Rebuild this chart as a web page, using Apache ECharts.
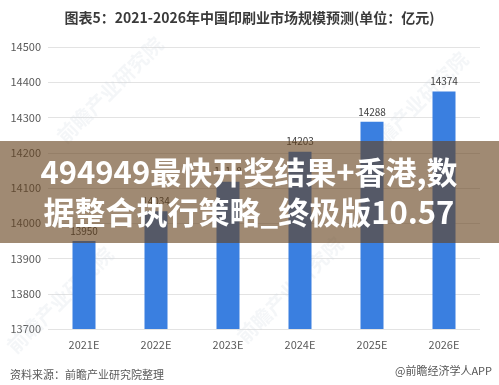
<!DOCTYPE html>
<html><head><meta charset="utf-8">
<script src="https://cdn.jsdelivr.net/npm/echarts@6/dist/echarts.min.js"></script>
<style>html,body{margin:0;padding:0;background:#fff}#c{width:499px;height:385px}</style>
</head><body><div id="c"></div>
<script>
const categories = ['2021E','2022E','2023E','2024E','2025E','2026E'];
const values = [13950, 14034, 14118, 14203, 14288, 14374];
const yTicks = {min: 13700, max: 14500, interval: 100};
const titleText = '图表5：2021-2026年中国印刷业市场规模预测(单位：亿元)';
const overlayLines = ['494949最快开奖结果+香港,数', '据整合执行策略_终极版10.57'];
const sourceText = '资料来源：前瞻产业研究院整理';
const brandText = '@前瞻经济学人APP';
const wmText = '前瞻产业研究院';

const chart = echarts.init(document.getElementById('c'), null, {renderer: 'canvas'});
const cjk = '"Noto Sans CJK SC", "Microsoft YaHei", sans-serif';
const wm = (x, y) => ({
  type: 'text', x: x, y: y, rotation: Math.PI / 4, z: 1,
  style: {text: wmText, font: 'bold 20px ' + cjk, fill: 'rgba(205,212,225,0.22)', textAlign: 'center', textVerticalAlign: 'middle'}
});
chart.setOption({
  animation: false,
  backgroundColor: '#ffffff',
  title: {
    text: titleText, left: 'center', top: 6,
    textStyle: {fontFamily: cjk, fontSize: 14, fontWeight: 'bold', color: '#3a3a3a'}
  },
  grid: {left: 48, right: 19, top: 47, height: 282, containLabel: false},
  xAxis: {
    type: 'category', data: categories,
    axisLine: {show: false}, axisTick: {show: false},
    axisLabel: {color: '#595959', fontSize: 11, fontFamily: cjk, margin: 10}
  },
  yAxis: {
    type: 'value', min: yTicks.min, max: yTicks.max, interval: yTicks.interval,
    axisLine: {show: false}, axisTick: {show: false},
    axisLabel: {color: '#595959', fontSize: 11, fontFamily: cjk, margin: 7, formatter: v => String(v)},
    splitLine: {lineStyle: {color: '#e3e3e3', width: 1}}
  },
  series: [{
    type: 'bar', data: values, barWidth: 23,
    itemStyle: {color: '#3a7fe0'},
    label: {show: true, position: 'top', color: '#404040', fontSize: 10, fontFamily: cjk, distance: 5, formatter: p => String(p.value)}
  }],
  graphic: [
    wm(110, 90), wm(415, 105), wm(60, 300), wm(290, 290),
    {type: 'text', left: 10, top: 369, style: {text: sourceText, font: '11px ' + cjk, fill: '#595959'}},
    {type: 'text', right: 7, top: 365, style: {text: brandText, font: '11px ' + cjk, fill: '#555555'}},
    {type: 'rect', z: 100, shape: {x: 0, y: 141, width: 499, height: 102}, style: {fill: 'rgba(101,66,29,0.62)'}},
    {type: 'text', z: 101, x: 249, y: 172, style: {text: overlayLines[0], font: 'bold 31px ' + cjk, fill: '#ffffff', textAlign: 'center', textVerticalAlign: 'middle', shadowColor: 'rgba(0,0,0,0.35)', shadowBlur: 3, shadowOffsetX: 1, shadowOffsetY: 1}},
    {type: 'text', z: 101, x: 249, y: 212, style: {text: overlayLines[1], font: 'bold 31px ' + cjk, fill: '#ffffff', textAlign: 'center', textVerticalAlign: 'middle', shadowColor: 'rgba(0,0,0,0.35)', shadowBlur: 3, shadowOffsetX: 1, shadowOffsetY: 1}}
  ]
});
</script></body></html>
